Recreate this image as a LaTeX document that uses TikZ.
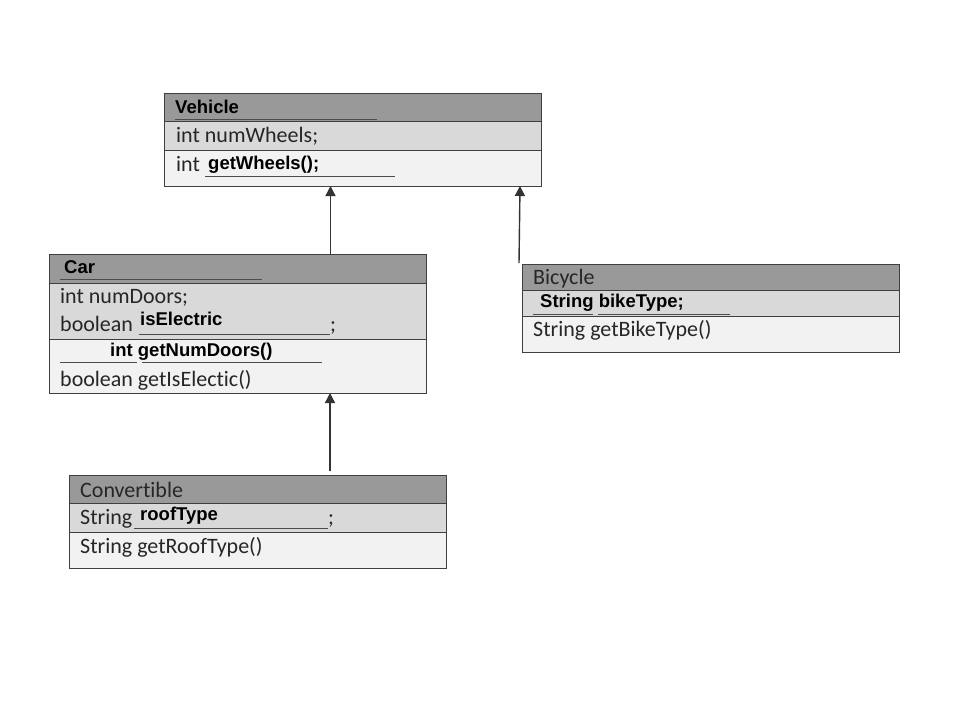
\documentclass[tikz,border=0pt]{standalone}
\usepackage{fontspec}
\setmainfont[Ligatures=NoCommon]{Carlito}
\newfontfamily\arialbf{Liberation Sans}
\usetikzlibrary{positioning,arrows.meta}
\definecolor{hdrgray}{HTML}{999999}
\definecolor{attrgray}{HTML}{D9D9D9}
\definecolor{methgray}{HTML}{F2F2F2}
\definecolor{edgegray}{HTML}{3F3F3F}
\tikzset{
  part/.style={draw=edgegray, line width=0.9pt, anchor=north west, inner sep=0pt, outer sep=0pt, minimum width=377pt},
  hdr/.style={part, fill=hdrgray},
  attr/.style={part, fill=attrgray},
  meth/.style={part, fill=methgray},
  txt/.style={anchor=base west, inner sep=0pt, font=\fontsize{22}{24}\selectfont, text=black!85},
  filled/.style={anchor=base west, inner sep=0pt, font=\arialbf\bfseries\fontsize{18.5}{20}\selectfont},
  blank/.style={draw=black!70, line width=1pt},
  isa/.style={draw=black!80, line width=1.4pt, -{Triangle[length=10pt,width=10pt]}}
}
\begin{document}
\begin{tikzpicture}[x=1pt,y=-1pt]
  \useasboundingbox[fill=white] (0,0) rectangle (960,720);
  % Vehicle
  \node[hdr, minimum height=28pt] (veh) at (164,93) {};
  \node[attr, minimum height=29pt, below=0pt of veh.south west, anchor=north west] (vehA) {};
  \node[meth, minimum height=36pt, below=0pt of vehA.south west, anchor=north west] (vehM) {};
  \node[filled] (vehName) at (175,113) {Vehicle};
  \draw[blank] (175,119) -- (377,119);
  \node[txt] (vehAttr) at (176,142) {int numWheels;};
  \node[txt] (vehInt) at (176,171) {int};
  \node[filled] (vehGet) at (208,169) {getWheels();};
  \draw[blank] (205,176) -- (395,176);
  % Car
  \node[hdr, minimum height=29pt] (car) at (49,254) {};
  \node[attr, minimum height=56pt, below=0pt of car.south west, anchor=north west] (carA) {};
  \node[meth, minimum height=54pt, below=0pt of carA.south west, anchor=north west] (carM) {};
  \node[filled] (carName) at (64,273) {Car};
  \draw[blank] (60,279) -- (262,279);
  \node[txt] (carDoors) at (60,303) {int numDoors;};
  \node[txt] (carBool) at (60,331) {boolean};
  \node[filled] (carElec) at (140,325) {isElectric};
  \draw[blank] (139,334) -- (330,334);
  \node[txt] (carSemi) at (330,331) {;};
  \node[filled] (carGetDoors) at (110,356) {int getNumDoors()};
  \draw[blank] (60,362) -- (137,362);
  \draw[blank] (142,362) -- (322,362);
  \node[txt] (carGetElec) at (60,386) {boolean getIsElectic()};
  % Bicycle
  \node[hdr, minimum height=26pt] (bike) at (522,264) {};
  \node[attr, minimum height=26pt, below=0pt of bike.south west, anchor=north west] (bikeA) {};
  \node[meth, minimum height=36pt, below=0pt of bikeA.south west, anchor=north west] (bikeM) {};
  \node[txt] (bikeName) at (533,284) {Bicycle};
  \node[filled] (bikeType) at (540,307) {String bikeType;};
  \draw[blank] (533,314) -- (593,314);
  \draw[blank] (598,314) -- (730,314);
  \node[txt] (bikeGet) at (533,336) {String getBikeType()};
  % Convertible
  \node[hdr, minimum height=28pt] (conv) at (69,475) {};
  \node[attr, minimum height=29pt, below=0pt of conv.south west, anchor=north west] (convA) {};
  \node[meth, minimum height=36pt, below=0pt of convA.south west, anchor=north west] (convM) {};
  \node[txt] (convName) at (80,497) {Convertible};
  \node[txt] (convStr) at (80,524) {String};
  \node[filled] (convRoof) at (140,520) {roofType};
  \draw[blank] (134,528) -- (328,528);
  \node[txt] (convSemi) at (328,524) {;};
  \node[txt] (convGet) at (80,553) {String getRoofType()};
  % inheritance arrows
  \coordinate (carTop) at ([xshift=93pt]car.north);
  \coordinate (bikeTop) at ([xshift=-3pt,yshift=1pt]bike.north west);
  \coordinate (convTop) at ([xshift=72.5pt,yshift=4pt]conv.north);
  \draw[isa] (carTop) -- (carTop |- vehM.south);
  \draw[isa] (bikeTop) -- ([xshift=-21pt]vehM.south east);
  \draw[isa] (convTop) -- (convTop |- carM.south);
\end{tikzpicture}
\end{document}
